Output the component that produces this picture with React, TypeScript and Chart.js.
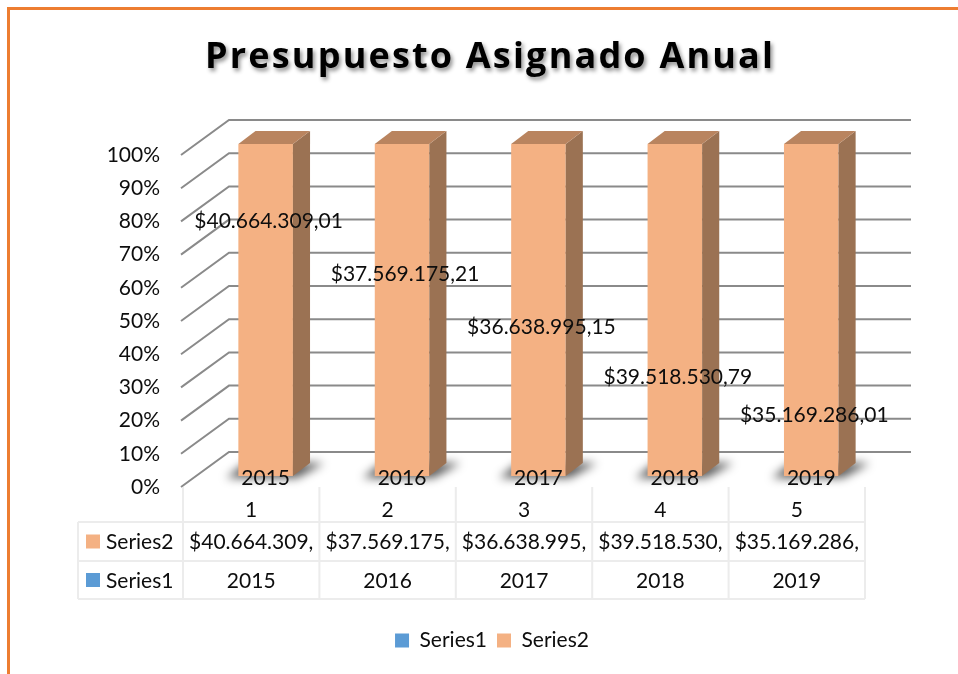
import React, { useEffect, useRef } from "react";
import { Chart, registerables } from "chart.js";

Chart.register(...registerables);

// ---------- data ----------
const categories = ["1", "2", "3", "4", "5"];
const series1Values = [2015, 2016, 2017, 2018, 2019];
const series2Values = [40664309.01, 37569175.21, 36638995.15, 39518530.79, 35169286.01];
const seriesNames = ["Series1", "Series2"];
// where the Series2 value labels were placed (in axis percent units)
const series2LabelLevels = [80, 64, 48, 33, 21.7];
const titleText = "Presupuesto Asignado Anual";

// ---------- styles ----------
const SERIES1_COLOR = "#5B9BD5";
const SERIES2_COLOR = "#F4B183";
const TOP_COLOR = "#B9845F";
const SIDE_COLOR = "#9B7253";
const GRID_COLOR = "#8a8a8a";
const TABLE_LINE = "#ececec";
const TEXT_COLOR = "#0d0d0d";
const FONT_FAMILY = "Lato, 'Open Sans', sans-serif";
const TITLE_FAMILY = "'Open Sans', Lato, sans-serif";
const FONT_SIZE = 21;

const DEPTH = { x: 46, y: -35 };
const FRONT_F = 0.314;
const BACK_F = 0.686;

function fmtMoney(v: number): string {
  const [i, d] = v.toFixed(2).split(".");
  return "$" + i.replace(/\B(?=(\d{3})+(?!\d))/g, ".") + "," + d;
}

const depthPlugin = {
  id: "depth3d",
  beforeDatasetsDraw(chart: any) {
    const { ctx, chartArea: a } = chart;
    const y = chart.scales.y;
    ctx.save();
    ctx.strokeStyle = GRID_COLOR;
    ctx.lineWidth = 2;
    for (const t of y.ticks) {
      const py = y.getPixelForValue(t.value);
      ctx.beginPath();
      ctx.moveTo(a.left - 2, py);
      ctx.lineTo(a.left + DEPTH.x, py + DEPTH.y);
      ctx.lineTo(a.right + DEPTH.x, py + DEPTH.y);
      ctx.stroke();
    }
    // floor shadows
    const meta = chart.getDatasetMeta(chart.data.datasets.length - 1);
    const y0 = y.getPixelForValue(0);
    ctx.filter = "blur(5px)";
    ctx.fillStyle = "rgba(0,0,0,0.65)";
    const bx = (BACK_F - FRONT_F) * DEPTH.x;
    const by = (BACK_F - FRONT_F) * DEPTH.y;
    meta.data.forEach((el: any) => {
      const { x, width } = el.getProps(["x", "width"], true);
      const l = x - width / 2 + FRONT_F * DEPTH.x;
      const r = x + width / 2 + FRONT_F * DEPTH.x;
      const b = y0 + FRONT_F * DEPTH.y;
      ctx.beginPath();
      ctx.moveTo(l - 12, b + 2);
      ctx.lineTo(r + 4, b + 2);
      ctx.lineTo(r + bx + 14, b + by);
      ctx.lineTo(l + bx - 10, b + by);
      ctx.closePath();
      ctx.fill();
    });
    ctx.restore();
  },
  beforeDatasetDraw() {
    return false;
  },
  afterDatasetsDraw(chart: any) {
    const { ctx } = chart;
    const bx = (BACK_F - FRONT_F) * DEPTH.x;
    const by = (BACK_F - FRONT_F) * DEPTH.y;
    const n = chart.data.labels.length;
    for (let i = 0; i < n; i++) {
      chart.data.datasets.forEach((ds: any, di: number) => {
        const el = chart.getDatasetMeta(di).data[i];
        const { x, y, base, width } = el.getProps(["x", "y", "base", "width"], true);
        if (Math.abs(base - y) < 0.5) return;
        const l = x - width / 2 + FRONT_F * DEPTH.x;
        const r = x + width / 2 + FRONT_F * DEPTH.x;
        const t = y + FRONT_F * DEPTH.y;
        const b = base + FRONT_F * DEPTH.y;
        ctx.save();
        ctx.fillStyle = ds.backgroundColor;
        ctx.fillRect(l, t, r - l, b - t);
        ctx.fillStyle = di === 1 ? SIDE_COLOR : "#3f6f9c";
        ctx.beginPath();
        ctx.moveTo(r, t);
        ctx.lineTo(r + bx, t + by);
        ctx.lineTo(r + bx, b + by);
        ctx.lineTo(r, b);
        ctx.closePath();
        ctx.fill();
        ctx.fillStyle = di === 1 ? TOP_COLOR : "#4a7fb0";
        ctx.beginPath();
        ctx.moveTo(l, t);
        ctx.lineTo(r, t);
        ctx.lineTo(r + bx, t + by);
        ctx.lineTo(l + bx, t + by);
        ctx.closePath();
        ctx.fill();
        ctx.restore();
      });
    }
    // data labels
    const yScale = chart.scales.y;
    ctx.save();
    ctx.font = `${FONT_SIZE}px ${FONT_FAMILY}`;
    ctx.fillStyle = TEXT_COLOR;
    ctx.textAlign = "center";
    ctx.textBaseline = "middle";
    const m1 = chart.getDatasetMeta(0);
    const m2 = chart.getDatasetMeta(1);
    for (let i = 0; i < n; i++) {
      const e1 = m1.data[i].getProps(["x", "base"], true);
      ctx.fillText(String(series1Values[i]), e1.x + FRONT_F * DEPTH.x, e1.base + FRONT_F * DEPTH.y + 2);
      const e2 = m2.data[i].getProps(["x"], true);
      ctx.fillText(
        fmtMoney(series2Values[i]),
        e2.x + FRONT_F * DEPTH.x + 3,
        yScale.getPixelForValue(series2LabelLevels[i])
      );
    }
    ctx.restore();
  },
  afterDraw(chart: any) {
    const { ctx } = chart;
    const a = chart.chartArea;
    ctx.save();
    // title
    ctx.font = `bold 36px ${TITLE_FAMILY}`;
    (ctx as any).letterSpacing = "0px";
    const w0 = ctx.measureText(titleText).width;
    const targetW = 568;
    const ls = (targetW - w0) / (titleText.length - 1);
    (ctx as any).letterSpacing = `${ls}px`;
    ctx.textAlign = "left";
    ctx.textBaseline = "alphabetic";
    ctx.shadowColor = "rgba(0,0,0,0.45)";
    ctx.shadowOffsetX = 2;
    ctx.shadowOffsetY = 3;
    ctx.shadowBlur = 4;
    ctx.fillStyle = "#000";
    ctx.fillText(titleText, 489 - targetW / 2, 68);
    ctx.restore();

    // data table
    ctx.save();
    const n = chart.data.labels.length;
    const cw = (a.right - a.left) / n;
    const r1 = a.bottom + 35;
    const r2 = a.bottom + 74;
    const r3 = a.bottom + 112;
    const labelLeft = 78;
    ctx.strokeStyle = TABLE_LINE;
    ctx.lineWidth = 2;
    ctx.beginPath();
    for (let i = 0; i <= n; i++) {
      const x = a.left + i * cw;
      ctx.moveTo(x, a.bottom);
      ctx.lineTo(x, r3);
    }
    ctx.moveTo(labelLeft, r1);
    ctx.lineTo(labelLeft, r3);
    for (const ry of [r1, r2, r3]) {
      ctx.moveTo(labelLeft, ry);
      ctx.lineTo(a.right, ry);
    }
    ctx.stroke();

    ctx.font = `${FONT_SIZE}px ${FONT_FAMILY}`;
    ctx.fillStyle = TEXT_COLOR;
    ctx.textBaseline = "middle";
    const rows = [
      { name: seriesNames[1], color: SERIES2_COLOR, vals: series2Values.map(fmtMoney), cy: (r1 + r2) / 2 },
      { name: seriesNames[0], color: SERIES1_COLOR, vals: series1Values.map(String), cy: (r2 + r3) / 2 },
    ];
    for (const row of rows) {
      ctx.fillStyle = row.color;
      ctx.fillRect(86, row.cy - 7, 14, 14);
      ctx.fillStyle = TEXT_COLOR;
      ctx.textAlign = "left";
      ctx.fillText(row.name, 106, row.cy + 1);
      ctx.textAlign = "center";
      row.vals.forEach((v, i) => {
        let s = v;
        while (ctx.measureText(s).width > cw - 4 && s.length > 1) s = s.slice(0, -1);
        ctx.fillText(s, a.left + (i + 0.5) * cw, row.cy + 1);
      });
    }
    ctx.restore();
  },
};

export default function App() {
  const ref = useRef<HTMLCanvasElement>(null);
  useEffect(() => {
    const canvas = ref.current!;
    const totals = series1Values.map((v, i) => v + series2Values[i]);
    const pct1 = series1Values.map((v, i) => (v / totals[i]) * 100);
    const pct2 = series2Values.map((v, i) => (v / totals[i]) * 100);
    const font = { family: FONT_FAMILY, size: FONT_SIZE };
    const chart = new Chart(canvas, {
      type: "bar",
      data: {
        labels: categories,
        datasets: [
          { label: seriesNames[0], data: pct1, backgroundColor: SERIES1_COLOR },
          { label: seriesNames[1], data: pct2, backgroundColor: SERIES2_COLOR },
        ],
      },
      options: {
        responsive: false,
        animation: false,
        devicePixelRatio: 1,
        layout: { padding: { top: 155, right: 0, bottom: 13, left: 26 } },
        datasets: { bar: { categoryPercentage: 1, barPercentage: 0.4 } },
        scales: {
          x: {
            stacked: true,
            grid: { display: false, drawTicks: false },
            border: { display: false },
            ticks: { font, color: TEXT_COLOR, padding: 11 },
            afterFit: (s: any) => {
              s.height = 133;
            },
          },
          y: {
            stacked: true,
            min: 0,
            max: 100,
            grid: { display: false, drawTicks: false },
            border: { display: false },
            ticks: { stepSize: 10, font, color: TEXT_COLOR, padding: 23, callback: (v: any) => v + "%" },
            afterFit: (s: any) => {
              s.width = 157;
            },
          },
          yRight: {
            position: "right",
            display: true,
            grid: { display: false, drawTicks: false },
            border: { display: false },
            ticks: { display: false },
            afterFit: (s: any) => {
              s.width = 93;
            },
          },
        },
        plugins: {
          legend: {
            position: "bottom",
            labels: { boxWidth: 14, boxHeight: 14, font, color: TEXT_COLOR, padding: 10 },
          },
          title: { display: false },
          tooltip: { enabled: false },
        },
      } as any,
      plugins: [depthPlugin as any],
    });
    return () => chart.destroy();
  }, []);
  return (
    <div style={{ position: "absolute", left: 0, top: 0, width: 958, height: 674, background: "#fff", overflow: "hidden" }}>
      <div
        style={{
          position: "absolute",
          left: 7,
          top: 7,
          right: 0,
          bottom: 0,
          borderTop: "3px solid #ED7D31",
          borderLeft: "3px solid #ED7D31",
        }}
      />
      <canvas ref={ref} width={958} height={674} style={{ position: "absolute", left: 0, top: 0 }} />
    </div>
  );
}
